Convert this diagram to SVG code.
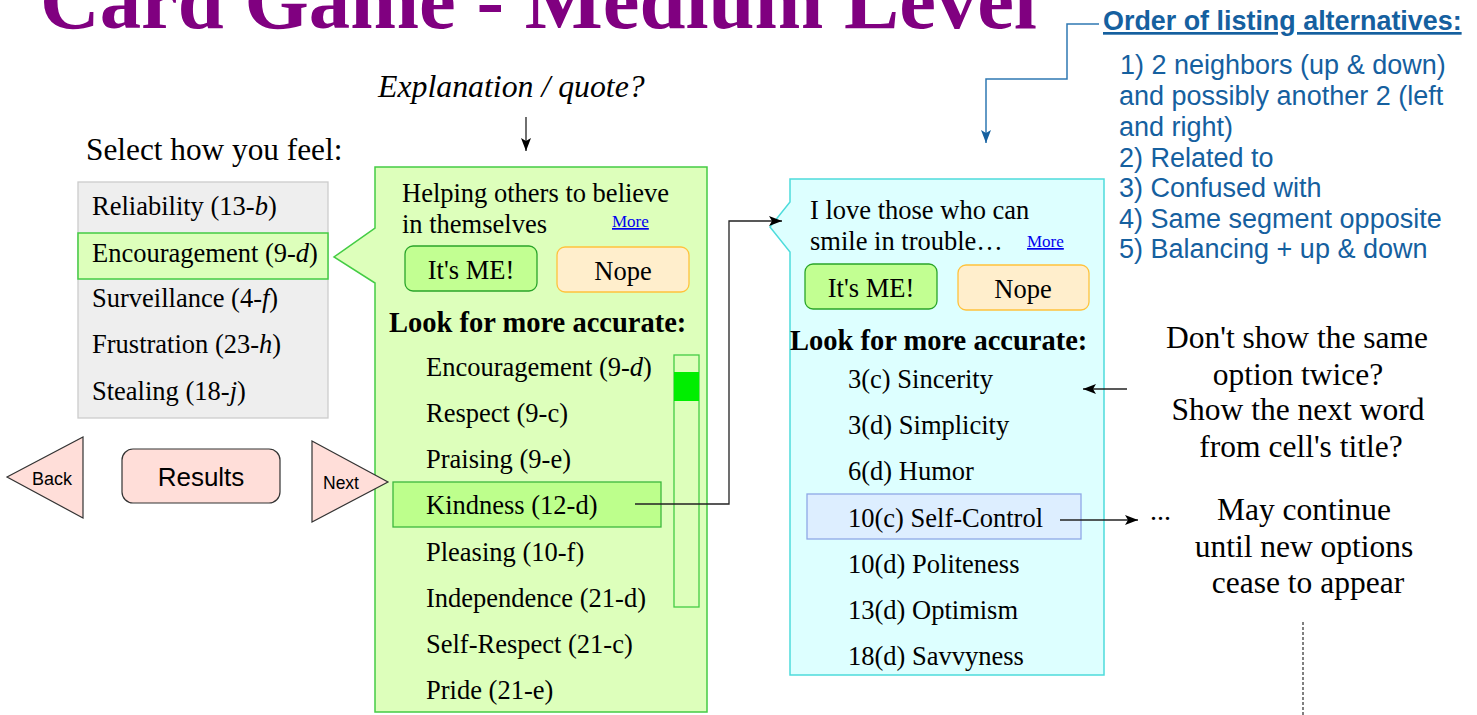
<svg xmlns="http://www.w3.org/2000/svg" width="1477" height="715" viewBox="0 0 1477 715">
<defs>
<style>
.serif{font-family:"Liberation Serif","Times New Roman",serif;fill:#000}
.sans{font-family:"Liberation Sans",Arial,sans-serif;fill:#000}
.item{font-family:"Liberation Serif","Times New Roman",serif;font-size:26.5px;fill:#000}
.head{font-family:"Liberation Serif","Times New Roman",serif;font-size:28.5px;font-weight:bold;fill:#000}
.note{font-family:"Liberation Serif","Times New Roman",serif;font-size:31.5px;fill:#000;text-anchor:middle}
.more{font-family:"Liberation Serif","Times New Roman",serif;font-size:17px;fill:#0000ee;text-decoration:underline}
.blue{font-family:"Liberation Sans",Arial,sans-serif;font-size:27px;fill:#15609f}
.btnyes{fill:#c2ff92;stroke:#2aa52a;stroke-width:1.3}
.btnno{fill:#ffeecc;stroke:#ffc23c;stroke-width:1.3}
.pink{fill:#ffded9;stroke:#333;stroke-width:1.2}
.conn{fill:none;stroke:#222;stroke-width:1.3}
.i{font-style:italic}
</style>
<marker id="ah" markerUnits="userSpaceOnUse" markerWidth="14" markerHeight="12" refX="13" refY="5" orient="auto">
<path d="M0,0 L13,5 L0,10 L3,5 Z" fill="#000"/>
</marker>
<marker id="ahb" markerUnits="userSpaceOnUse" markerWidth="14" markerHeight="12" refX="13" refY="5" orient="auto">
<path d="M0,0 L13,5 L0,10 L3,5 Z" fill="#15609f"/>
</marker>
</defs>
<rect width="1477" height="715" fill="#fff"/>

<g id="title">
<text x="40" y="28" class="serif" font-size="83" font-weight="bold" fill="#800080" style="fill:#800080" textLength="997" lengthAdjust="spacingAndGlyphs">Card Game - Medium Level</text>
</g>

<g id="explanation">
<text x="378" y="97" class="serif" font-size="31.8" font-style="italic">Explanation / quote?</text>
</g>

<g id="select-label">
<text x="86" y="160" class="serif" font-size="31.3">Select how you feel:</text>
</g>

<g id="feel-list">
<rect x="78" y="182" width="250" height="236" fill="#eeeeee" stroke="#cccccc" stroke-width="1.3"/>
<rect x="78" y="233" width="250" height="46" fill="#ddffbb" stroke="#44cc44" stroke-width="1.5"/>
<text x="92" y="215" class="item">Reliability (13-<tspan class="i">b</tspan>)</text>
<text x="92" y="262" class="item">Encouragement (9-<tspan class="i">d</tspan>)</text>
<text x="92" y="307" class="item">Surveillance (4-<tspan class="i">f</tspan>)</text>
<text x="92" y="353" class="item">Frustration (23-<tspan class="i">h</tspan>)</text>
<text x="92" y="400" class="item">Stealing (18-<tspan class="i">j</tspan>)</text>
</g>

<g id="card-green">
<path d="M375,167 H707 V712 H375 V283 L334,257 L375,228 Z" fill="#ddffbb" stroke="#44cc44" stroke-width="1.5"/>
<text x="402" y="202" class="item">Helping others to believe</text>
<text x="402" y="233" class="item">in themselves</text>
<text x="612" y="227" class="more">More</text>
<rect x="405" y="246" width="132" height="45" rx="8" class="btnyes"/>
<text x="471" y="279" class="item" text-anchor="middle">It's ME!</text>
<rect x="557" y="247" width="132" height="45" rx="8" class="btnno"/>
<text x="623" y="280" class="item" text-anchor="middle">Nope</text>
<text x="389" y="332" class="head">Look for more accurate:</text>
<rect x="393" y="482" width="268" height="45" fill="#bdff8c" stroke="#3cb83c" stroke-width="1.3"/>
<rect x="674" y="355" width="25" height="252" fill="none" stroke="#44cc44" stroke-width="1.3"/>
<rect x="674" y="372" width="25" height="29" fill="#00ee00"/>
<text x="426" y="376" class="item">Encouragement (9-<tspan class="i">d</tspan>)</text>
<text x="426" y="422" class="item">Respect (9-c)</text>
<text x="426" y="468" class="item">Praising (9-e)</text>
<text x="426" y="514" class="item">Kindness (12-d)</text>
<text x="426" y="561" class="item">Pleasing (10-f)</text>
<text x="426" y="607" class="item">Independence (21-d)</text>
<text x="426" y="653" class="item">Self-Respect (21-c)</text>
<text x="426" y="699" class="item">Pride (21-e)</text>
</g>

<g id="back">
<polygon points="7,477 83,437 83,518" class="pink"/>
<text x="32" y="485" class="sans" font-size="18">Back</text>
</g>
<g id="results">
<rect x="122" y="449" width="158" height="54" rx="11" class="pink"/>
<text x="201" y="486" class="sans" font-size="26" text-anchor="middle">Results</text>
</g>
<g id="next">
<polygon points="312,441 388,482 312,522" class="pink"/>
<text x="323" y="489" class="sans" font-size="17.5">Next</text>
</g>

<g id="card-cyan">
<path d="M790,179 H1104 V675 H790 V252 L770,227 L790,202 Z" fill="#ddffff" stroke="#4ddcdc" stroke-width="1.5"/>
<text x="810" y="219" class="item">I love those who can</text>
<text x="810" y="250" class="item">smile in trouble…</text>
<text x="1027" y="247" class="more">More</text>
<rect x="805" y="264" width="132" height="45" rx="8" class="btnyes"/>
<text x="871" y="297" class="item" text-anchor="middle">It's ME!</text>
<rect x="958" y="265" width="131" height="45" rx="8" class="btnno"/>
<text x="1023" y="298" class="item" text-anchor="middle">Nope</text>
<text x="790" y="350" class="head">Look for more accurate:</text>
<rect x="807" y="494" width="274" height="45" fill="#ddeeff" stroke="#8fa8e6" stroke-width="1.3"/>
<text x="848" y="388" class="item">3(c) Sincerity</text>
<text x="848" y="434" class="item">3(d) Simplicity</text>
<text x="848" y="480" class="item">6(d) Humor</text>
<text x="848" y="527" class="item">10(c) Self-Control</text>
<text x="848" y="573" class="item">10(d) Politeness</text>
<text x="848" y="619" class="item">13(d) Optimism</text>
<text x="848" y="665" class="item">18(d) Savvyness</text>
</g>

<g id="order-note">
<text x="1103" y="30" class="blue" font-weight="bold" text-decoration="underline" style="font-size:26.9px">Order of listing alternatives:</text>
<text x="1120" y="74" class="blue">1) 2 neighbors (up &amp; down)</text>
<text x="1119" y="105" class="blue">and possibly another 2 (left</text>
<text x="1119" y="136" class="blue">and right)</text>
<text x="1119" y="167" class="blue">2) Related to</text>
<text x="1119" y="197" class="blue">3) Confused with</text>
<text x="1119" y="228" class="blue">4) Same segment opposite</text>
<text x="1119" y="258" class="blue">5) Balancing + up &amp; down</text>
</g>

<g id="twice-note">
<text x="1297" y="348" class="note">Don't show the same</text>
<text x="1298" y="385" class="note">option twice?</text>
<text x="1298" y="420" class="note">Show the next word</text>
<text x="1301" y="457" class="note">from cell's title?</text>
</g>

<g id="continue-note">
<text x="1150" y="520" class="serif" font-size="28">...</text>
<text x="1304" y="520" class="note">May continue</text>
<text x="1304" y="557" class="note">until new options</text>
<text x="1308" y="593" class="note">cease to appear</text>
</g>

<g id="connectors">
<path d="M526,117 V151" class="conn" marker-end="url(#ah)"/>
<path d="M635,504 H729 V221 H782" class="conn" marker-end="url(#ah)"/>
<path d="M1127,389 H1083" class="conn" marker-end="url(#ah)"/>
<path d="M1060,520 H1138" class="conn" marker-end="url(#ah)"/>
<path d="M1099,24 H1067 V79 H986 V143" fill="none" stroke="#2f78b2" stroke-width="1.5" marker-end="url(#ahb)"/>
<path d="M1303,622 V715" fill="none" stroke="#000" stroke-width="1" stroke-dasharray="3,2"/>
</g>
</svg>
